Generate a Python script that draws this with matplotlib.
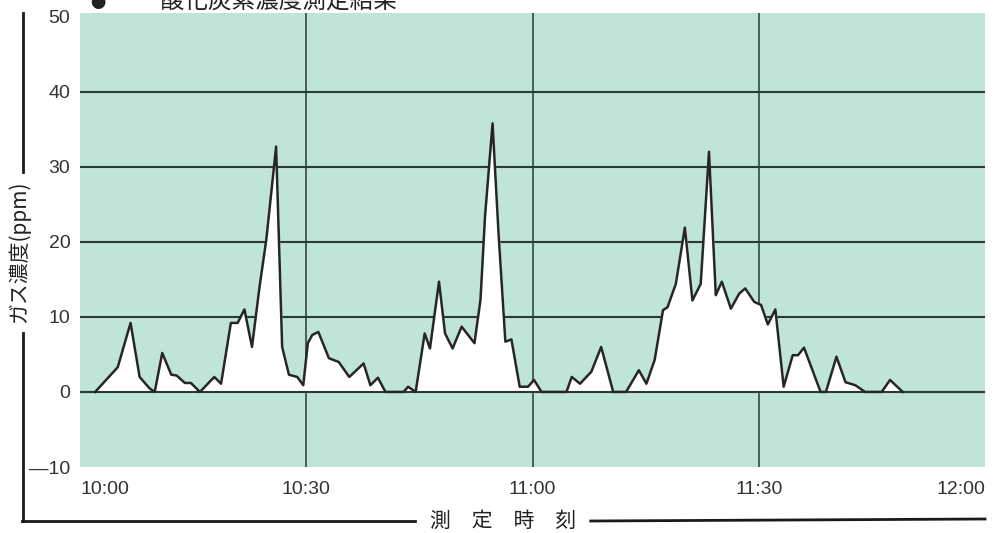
import matplotlib
matplotlib.use("Agg")
import matplotlib.pyplot as plt
from matplotlib.lines import Line2D

# measured CO concentration, minutes after 10:00
minutes = [2.0, 5.0, 6.7, 7.9, 9.2, 9.9, 10.9, 12.1, 12.8, 13.9, 14.7, 15.9,
           17.8, 18.7, 20.0, 20.9, 21.8, 22.8, 23.8, 24.7, 26.0, 26.8, 27.7,
           28.8, 29.6, 30.2, 30.8, 31.6, 33.0, 34.3, 35.7, 37.6, 38.5, 39.5,
           40.5, 42.9, 43.5, 44.5, 45.7, 46.4, 47.6, 48.4, 49.4, 50.6, 52.3,
           53.1, 53.7, 54.7, 55.5, 56.4, 57.2, 58.3, 59.4, 60.2, 61.2, 64.5,
           65.2, 66.3, 67.8, 69.1, 70.7, 72.4, 74.1, 75.1, 76.2, 77.3, 77.9,
           79.0, 80.2, 81.2, 82.3, 83.4, 84.3, 85.1, 86.3, 87.4, 88.2, 89.4,
           90.3, 91.2, 92.2, 93.3, 94.5, 95.2, 96.0, 98.2, 98.9, 100.3, 101.5,
           102.8, 104.1, 106.3, 107.4, 109.1]
ppm = [0.0, 3.3, 9.2, 2.0, 0.5, 0.0, 5.2, 2.3, 2.2, 1.2, 1.2, 0.0,
       2.0, 1.1, 9.2, 9.2, 11.0, 6.0, 14.0, 20.3, 32.7, 6.0, 2.3,
       2.0, 0.9, 6.5, 7.6, 8.0, 4.5, 4.0, 2.0, 3.8, 0.9, 1.9,
       0.0, 0.0, 0.7, 0.0, 7.8, 5.8, 14.7, 7.8, 5.8, 8.7, 6.5,
       12.3, 23.4, 35.8, 21.0, 6.7, 7.0, 0.7, 0.7, 1.6, 0.0, 0.0,
       2.0, 1.1, 2.7, 6.0, 0.0, 0.0, 2.9, 1.1, 4.3, 10.9, 11.3,
       14.4, 21.9, 12.2, 14.4, 32.0, 12.9, 14.7, 11.1, 13.1, 13.8, 12.0,
       11.6, 9.0, 11.0, 0.7, 4.9, 4.9, 5.9, 0.0, 0.0, 4.7, 1.3,
       0.9, 0.0, 0.0, 1.6, 0.0]

x_ticks = [0, 30, 60, 90, 120]
x_labels = ["10:00", "10:30", "11:00", "11:30", "12:00"]
y_ticks = [50, 40, 30, 20, 10, 0, -10]
y_labels = ["50", "40", "30", "20", "10", "0", "—10"]

num_font = ["Liberation Sans Narrow", "Liberation Sans", "DejaVu Sans"]
jp_font = ["Noto Sans CJK JP", "DejaVu Sans"]

fig = plt.figure(figsize=(9.98, 5.33), dpi=100, facecolor="white")
ax = fig.add_axes([0.0802, 0.1238, 0.9068, 0.8518])
ax.set_facecolor("#bfe5d8")

for v in [0, 10, 20, 30, 40]:
    ax.axhline(v, color="#2b3a35", lw=1.5, zorder=1)
for t in [30, 60, 90]:
    ax.axvline(t, color="#2b3a35", lw=1.1, zorder=1)

ax.fill_between(minutes, ppm, 0, color="white", zorder=2)
ax.axhline(0, color="#2b3a35", lw=1.5, zorder=3)
ax.plot(minutes, ppm, color="#262626", lw=1.8, zorder=4, solid_joinstyle="round")

ax.set_xlim(0, 120)
ax.set_ylim(-10, 50.5)
for s in ax.spines.values():
    s.set_visible(False)
ax.tick_params(length=0, colors="#333333")
ax.set_xticks(x_ticks)
ax.set_xticklabels(x_labels, fontsize=14, family=num_font)
ax.set_yticks(y_ticks)
ax.set_yticklabels(y_labels, fontsize=14, family=num_font)
ax.tick_params(axis="x", pad=10)
ax.tick_params(axis="y", pad=7)
xl = ax.get_xticklabels()
xl[0].set_ha("left")
xl[-1].set_ha("right")

# bracket lines and axis titles
fig.add_artist(Line2D([0.023, 0.023], [1 - 13 / 533, 1 - 172 / 533], color="#1a1a1a", lw=2))
fig.add_artist(Line2D([0.023, 0.023], [1 - 333 / 533, 1 - 521 / 533], color="#1a1a1a", lw=2))
fig.add_artist(Line2D([0.022, 0.416], [1 - 521 / 533, 1 - 521 / 533], color="#1a1a1a", lw=2))
fig.add_artist(Line2D([0.592, 0.987], [1 - 521 / 533, 1 - 519 / 533], color="#1a1a1a", lw=2))
fig.text(0.019, 1 - 252 / 533, "ガス濃度(ppm)", rotation=90, ha="center", va="center",
         fontsize=15, family=jp_font, color="#222222")
fig.text(0.504, 1 - 521 / 533, "測　定　時　刻", ha="center", va="center",
         fontsize=15, family=jp_font, color="#222222")
# title sits partly above the page edge, as in the scan
fig.text(0.090, 1 - 8 / 533, "●", ha="left", va="baseline",
         fontsize=11, family=jp_font, color="#222222")
fig.text(0.137, 1 - 8 / 533, "一酸化炭素濃度測定結果", ha="left", va="baseline",
         fontsize=17, family=jp_font, color="#222222")

fig.savefig("out.png", dpi=100, facecolor="white")
